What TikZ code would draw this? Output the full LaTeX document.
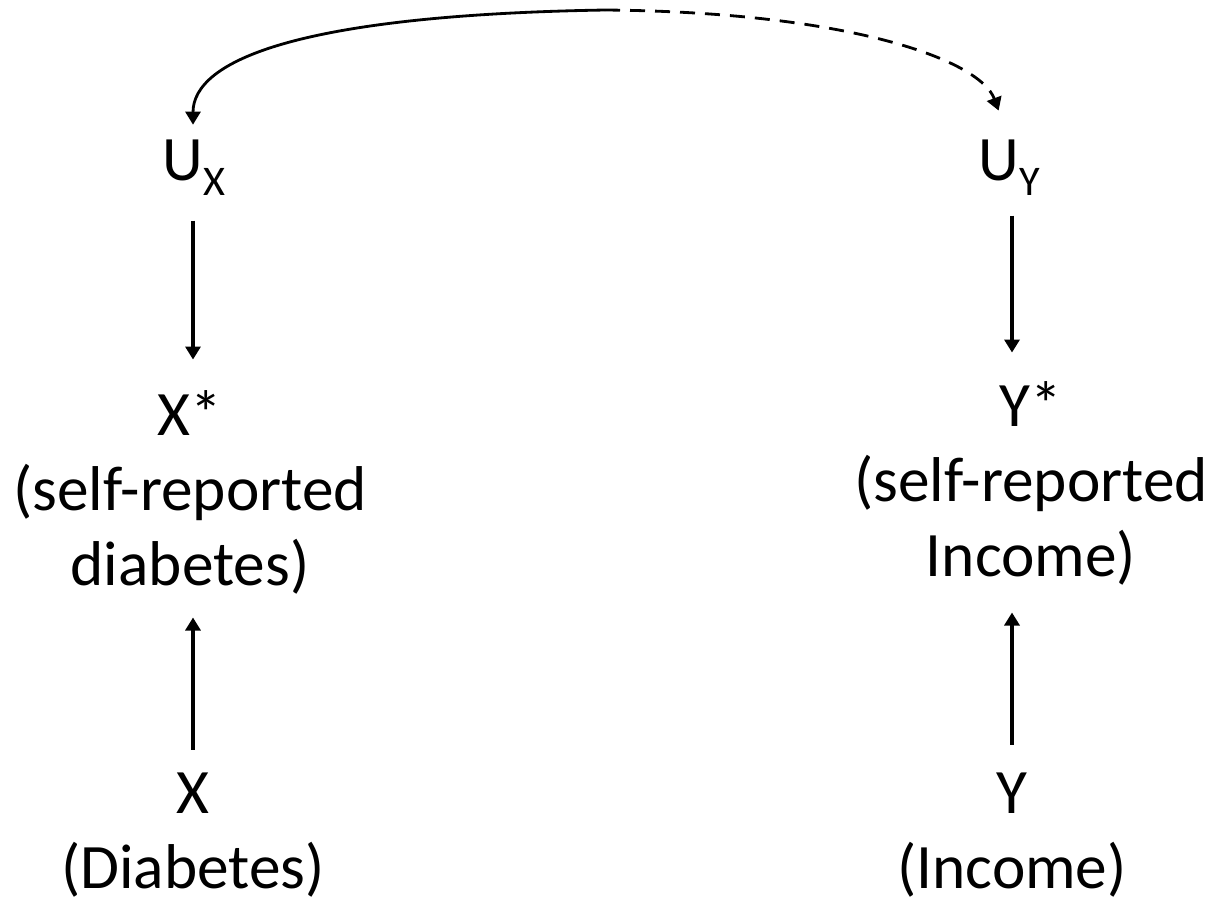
\documentclass[tikz,border=0pt]{standalone}
\usepackage{fontspec}
\setmainfont{Carlito}
\usepackage{tikz}
\usetikzlibrary{arrows.meta, positioning, calc}

\newcommand{\subtxt}[1]{\raisebox{-0.15cm}{\fontsize{12}{12}\selectfont #1}}

\begin{document}
\begin{tikzpicture}[
        x=0.01cm, y=-0.01cm,
        font=\fontsize{18}{21.3}\selectfont,
        % Styles
        var/.style={
            inner sep=0pt,
            align=center,
            anchor=base
        },
        conn/.style={-{Triangle[width=0.15cm, length=0.13cm]}, line width=1.1pt, draw=black},
        arc/.style={-{Triangle[width=0.15cm, length=0.13cm]}, line width=0.8pt, draw=black},
        dasharc/.style={arc, dash pattern=on 0.15cm off 0.1cm}
    ]
    \useasboundingbox (0,0) rectangle (1218,902);

    % ==============================
    % 1. ERROR TERMS
    % ==============================
    \node[var] (ux) at (194,180) {U\subtxt{X}};
    \node[var] (uy) at (1009,180) {U\subtxt{Y}};

    % ==============================
    % 2. MEASURED VARIABLES (base = last line)
    % ==============================
    \node[var] (xstar) at (190,585) {X*\\(self-reported\\diabetes)};
    \node[var] (ystar) at (1031,576) {Y*\\(self-reported\\Income)};

    % ==============================
    % 3. TRUE VARIABLES
    % ==============================
    \node[var] (x) at (193,888) {X\\(Diabetes)};
    \node[var] (y) at (1012,888) {Y\\(Income)};

    % ==============================
    % 4. ARROWS
    % ==============================
    \draw[conn, shorten <=0.25cm, shorten >=0.3cm] (ux.south -| x) -- (x |- xstar.north);
    \draw[conn, shorten <=0.2cm, shorten >=0.28cm] (uy.south -| y) -- (y |- ystar.north);
    \draw[conn, shorten <=0.22cm, shorten >=0.23cm] (x.north) -- (x |- xstar.south);
    \draw[conn, shorten <=0.27cm, shorten >=0.27cm] (y.north) -- (y |- ystar.south);

    % ==============================
    % 5. CORRELATED ERRORS
    % ==============================
    \coordinate (apex) at (605,10);
    \draw[arc, shorten >=0.14cm] (apex) .. controls (300,15) and (193,60) .. (ux.north -| x);
    \draw[dasharc, shorten >=0.3cm] (apex) .. controls (850,12) and (980,60) .. (uy.north);

\end{tikzpicture}
\end{document}
